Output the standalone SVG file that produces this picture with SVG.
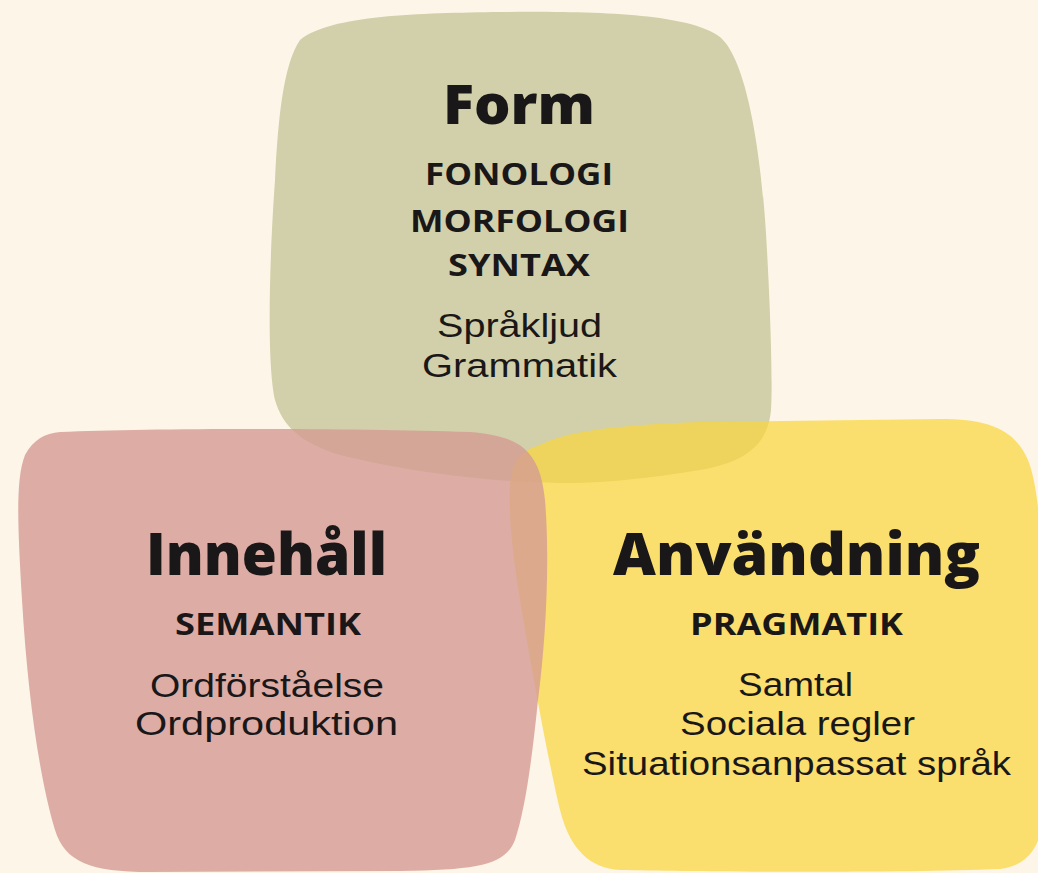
<svg xmlns="http://www.w3.org/2000/svg" width="1038" height="873" viewBox="0 0 1038 873">
<style>
  text { font-family: "Open Sans", "Liberation Sans", sans-serif; fill: #1A1718; text-anchor: middle; }
  .title { font-weight: 800; font-size: 58px; }
  .sub { font-weight: 700; font-size: 31px; }
  .item { font-family: "Liberation Sans", Arial, sans-serif; font-weight: 400; font-size: 34px; }
</style>
<rect width="1038" height="873" fill="#FDF6E8"/>
<g id="form">
  <path d="M 300,40 C 330,15 420,13 500,12 C 600,11 690,14 720,37 C 745,58 760,140 766,233 C 770,300 773,380 771,410 C 768,445 745,462 700,470 C 650,478 600,484 560,483 C 480,482 400,470 340,455 C 300,443 282,425 275,400 C 266,360 270,250 275,180 C 278,120 283,65 300,40 Z" fill="#D2D0AA"/>
</g>
<g id="anvandning">
  <path d="M 540,445 C 570,430 620,425 700,422 L 940,419 C 990,419 1015,430 1028,460 C 1040,490 1044,560 1044,650 L 1044,800 C 1044,845 1030,865 1000,869 C 900,873 700,872 620,870 C 590,868 570,850 560,810 C 548,760 530,660 520,600 C 510,540 505,480 515,462 C 522,452 530,448 540,445 Z" fill="#F9D53A" fill-opacity="0.7"/>
</g>
<g id="innehall">
  <path d="M 60,432 C 150,428 350,428 470,432 C 520,436 540,450 545,500 C 550,560 546,640 538,700 C 532,760 525,810 515,840 C 505,865 480,870 400,871 L 150,872 C 90,872 65,862 55,830 C 40,780 28,700 22,600 C 18,530 15,480 25,455 C 33,440 45,433 60,432 Z" fill="#D49B94" fill-opacity="0.8"/>
</g>
<g id="form-text">
  <text class="title" x="519" y="124" style="font-size:54px" textLength="152" lengthAdjust="spacingAndGlyphs">Form</text>
  <text class="sub" x="519" y="185" textLength="188" lengthAdjust="spacingAndGlyphs">FONOLOGI</text>
  <text class="sub" x="519.5" y="232" textLength="219" lengthAdjust="spacingAndGlyphs">MORFOLOGI</text>
  <text class="sub" x="519" y="276" textLength="142" lengthAdjust="spacingAndGlyphs">SYNTAX</text>
  <text class="item" x="519.5" y="337" textLength="165" lengthAdjust="spacingAndGlyphs">Språkljud</text>
  <text class="item" x="519.5" y="377" textLength="195" lengthAdjust="spacingAndGlyphs">Grammatik</text>
</g>
<g id="innehall-text">
  <text class="title" x="266.5" y="575" textLength="241" lengthAdjust="spacingAndGlyphs">Innehåll</text>
  <text class="sub" x="268" y="635" textLength="186" lengthAdjust="spacingAndGlyphs">SEMANTIK</text>
  <text class="item" x="267" y="697" textLength="234" lengthAdjust="spacingAndGlyphs">Ordförståelse</text>
  <text class="item" x="266.5" y="735" textLength="263" lengthAdjust="spacingAndGlyphs">Ordproduktion</text>
</g>
<g id="anvandning-text">
  <text class="title" x="796.5" y="575" textLength="367" lengthAdjust="spacingAndGlyphs">Användning</text>
  <text class="sub" x="796.5" y="635" textLength="213" lengthAdjust="spacingAndGlyphs">PRAGMATIK</text>
  <text class="item" x="795.5" y="696" textLength="115" lengthAdjust="spacingAndGlyphs">Samtal</text>
  <text class="item" x="797.5" y="735" textLength="235" lengthAdjust="spacingAndGlyphs">Sociala regler</text>
  <text class="item" x="796.5" y="775" textLength="429" lengthAdjust="spacingAndGlyphs">Situationsanpassat språk</text>
</g>
</svg>
